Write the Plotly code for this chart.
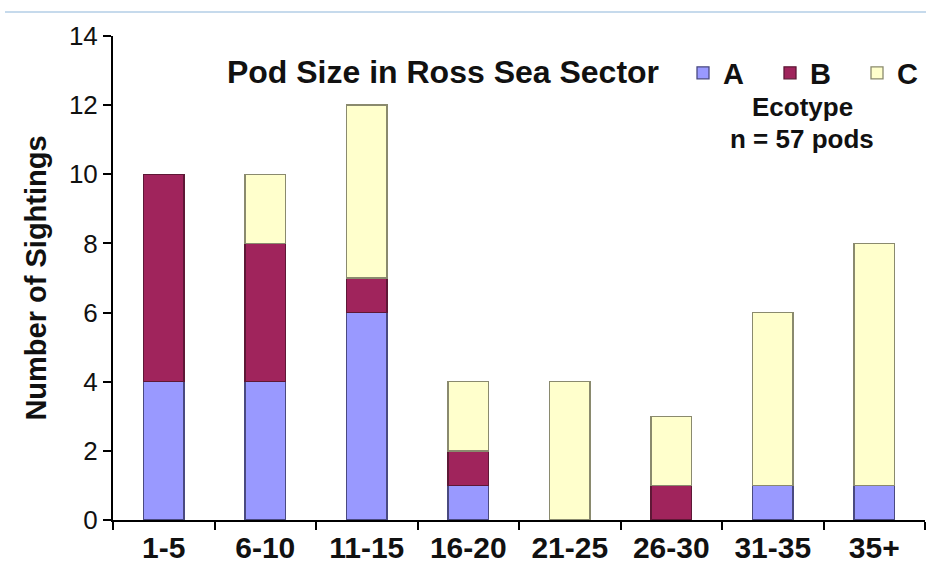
import plotly.graph_objects as go

# Pod size classes and sightings per ecotype
pod_sizes = ["1-5", "6-10", "11-15", "16-20", "21-25", "26-30", "31-35", "35+"]
ecotype_a = [4, 4, 6, 1, 0, 0, 1, 1]
ecotype_b = [6, 4, 1, 1, 0, 1, 0, 0]
ecotype_c = [0, 2, 5, 2, 4, 2, 5, 7]
y_ticks = [0, 2, 4, 6, 8, 10, 12, 14]

FONT = "Liberation Sans, Arial, sans-serif"

series = [
    ("A", ecotype_a, "#9999FF", "#4a4a80"),
    ("B", ecotype_b, "#A0245C", "#5e1836"),
    ("C", ecotype_c, "#FFFFCC", "#8a8a6e"),
]

fig = go.Figure()
for name, vals, fill, edge in series:
    # empty segments are left out so no outline is drawn for them
    fig.add_trace(go.Bar(
        x=pod_sizes, y=[v if v else None for v in vals], name=name,
        marker=dict(color=fill, line=dict(color=edge, width=1.3)),
    ))

W, H = 930, 585
L, R, T, B = 113, 5, 36, 65
pw, ph = W - L - R, H - T - B

def px_x(x):
    return (x - L) / pw

def px_y(y):
    return (H - B - y) / ph

fig.update_layout(
    width=W, height=H,
    margin=dict(l=L, r=R, t=T, b=B, autoexpand=False),
    barmode="stack",
    bargap=0.6,
    plot_bgcolor="white",
    paper_bgcolor="white",
    font=dict(family=FONT, color="black"),
    title=dict(
        text="Pod Size in Ross Sea Sector",
        font=dict(family=FONT, size=32, weight="bold", color="#111"),
        x=443 / W, xref="container", xanchor="center",
        y=1 - 72 / H, yref="container", yanchor="middle",
    ),
    legend=dict(
        orientation="h",
        x=px_x(683), y=px_y(73), xanchor="left", yanchor="middle",
        font=dict(family=FONT, size=29, weight="bold", color="#111"),
        bgcolor="rgba(0,0,0,0)",
        entrywidth=42, entrywidthmode="pixels",
        traceorder="normal",
    ),
    xaxis=dict(
        type="category",
        showline=True, linecolor="black", linewidth=2,
        ticks="outside", ticklen=8, tickwidth=2, tickcolor="black",
        tickson="boundaries",
        tickfont=dict(family=FONT, size=30, weight="bold", color="#111"),
        showgrid=False,
    ),
    yaxis=dict(
        range=[0, 14],
        tickvals=y_ticks,
        showline=True, linecolor="black", linewidth=2,
        ticks="outside", ticklen=8, tickwidth=2, tickcolor="black",
        tickfont=dict(family=FONT, size=26, color="#111"),
        showgrid=False, zeroline=False,
        title=dict(
            text="Number of Sightings",
            font=dict(family=FONT, size=29, weight="bold", color="#111"),
            standoff=14,
        ),
    ),
    annotations=[
        dict(text="Ecotype", x=px_x(802), y=px_y(107), xref="paper", yref="paper",
             showarrow=False, xanchor="center", yanchor="middle",
             font=dict(family=FONT, size=26, weight="bold", color="#111")),
        dict(text="n = 57 pods", x=px_x(802), y=px_y(139), xref="paper", yref="paper",
             showarrow=False, xanchor="center", yanchor="middle",
             font=dict(family=FONT, size=26, weight="bold", color="#111")),
    ],
    shapes=[
        dict(type="line", xref="paper", yref="paper",
             x0=px_x(5), x1=px_x(926), y0=px_y(12), y1=px_y(12),
             line=dict(color="#c6daec", width=2)),
    ],
)

fig.write_html("out.html")
